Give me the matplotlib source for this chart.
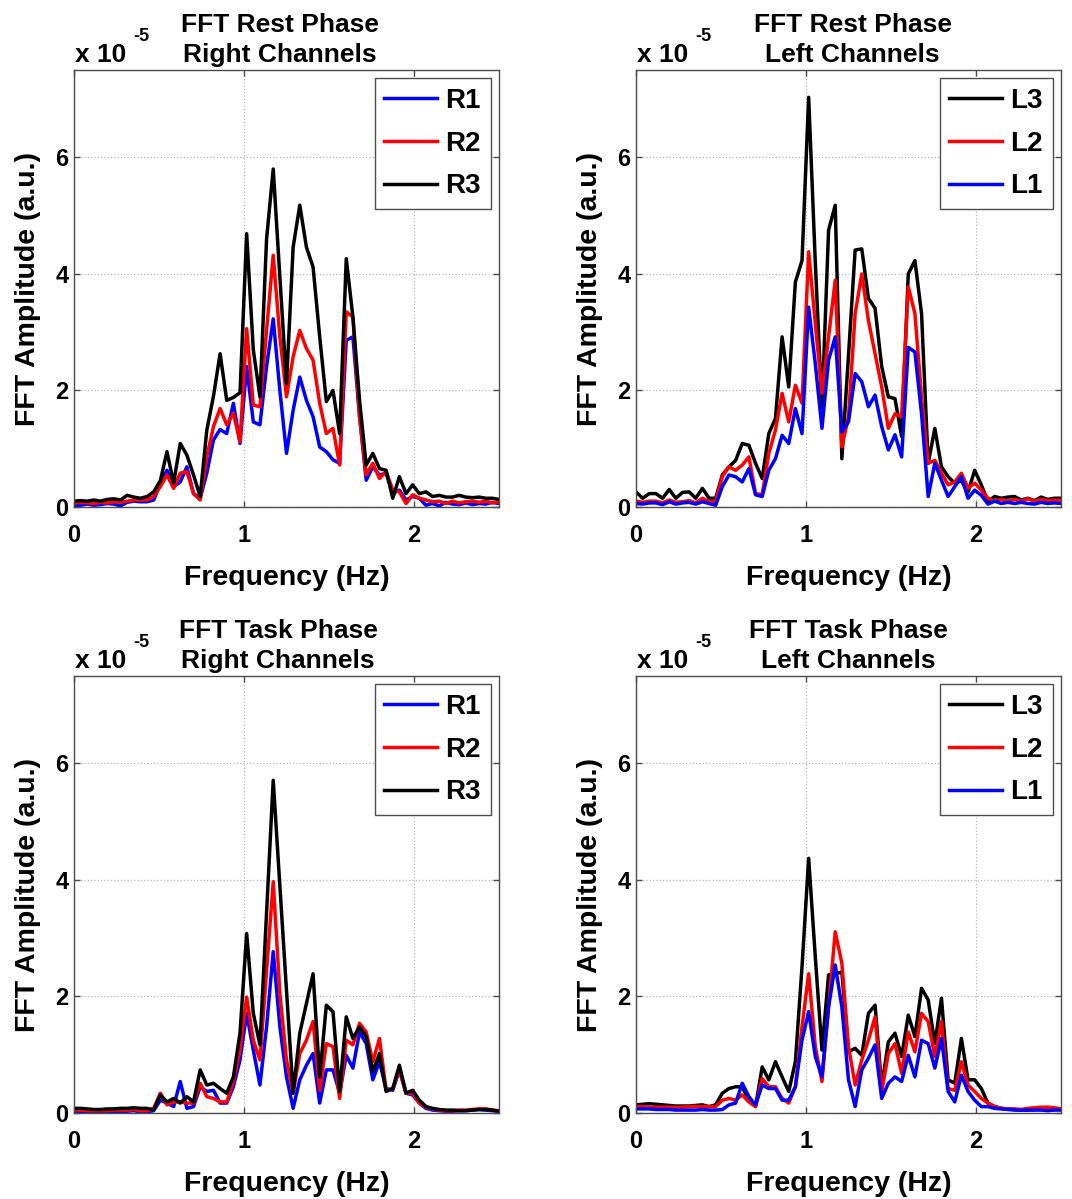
import matplotlib
matplotlib.use("Agg")
import matplotlib.pyplot as plt
import numpy as np

plt.rcParams['font.family'] = ['Liberation Sans', 'DejaVu Sans']
plt.rcParams['font.weight'] = 'bold'
plt.rcParams['axes.titleweight'] = 'bold'
plt.rcParams['axes.labelweight'] = 'bold'

# FFT bins: 65 bins, 0 .. 2.5 Hz
DF = 2.5 / 64
freq = np.arange(65) * DF

# amplitudes in units of 1e-5 (a.u.)
rest_r1 = [0.02, 0.03, 0.05, 0.03, 0.04, 0.06, 0.05, 0.02, 0.08, 0.10,
           0.09, 0.09, 0.12, 0.40,
           0.63, 0.35, 0.43, 0.69, 0.23, 0.15, 0.58, 1.15, 1.33, 1.26, 1.78,
           1.09, 2.41, 1.46, 1.41, 2.41, 3.23, 2.00, 0.92, 1.66, 2.23,
           1.83, 1.55, 1.03, 0.95, 0.81, 0.75, 2.86, 2.92, 1.55, 0.46,
           0.69, 0.55, 0.58, 0.23, 0.29, 0.12, 0.18, 0.15, 0.03, 0.06,
           0.02, 0.08, 0.05, 0.04, 0.07, 0.04, 0.06, 0.05, 0.08, 0.06]
rest_r2 = [0.07, 0.08, 0.07, 0.06, 0.08, 0.07, 0.09, 0.08, 0.10, 0.12,
           0.12, 0.12, 0.18, 0.35,
           0.55, 0.32, 0.58, 0.61, 0.23, 0.12, 0.86, 1.38, 1.69, 1.41, 1.61,
           1.12, 3.06, 1.75, 1.72, 3.03, 4.32, 2.92, 1.89, 2.58, 3.03,
           2.72, 2.52, 1.78, 1.26, 1.35, 0.72, 3.35, 3.26, 1.55, 0.55,
           0.75, 0.49, 0.61, 0.29, 0.26, 0.06, 0.21, 0.15, 0.12, 0.09,
           0.10, 0.06, 0.10, 0.07, 0.09, 0.10, 0.08, 0.10, 0.07, 0.09]
rest_r3 = [0.10, 0.11, 0.10, 0.12, 0.10, 0.13, 0.14, 0.12, 0.20, 0.17,
           0.15, 0.18, 0.26, 0.45,
           0.95, 0.41, 1.09, 0.89, 0.55, 0.18, 1.32, 1.90, 2.63, 1.83, 1.88,
           1.96, 4.69, 2.70, 1.89, 4.60, 5.80, 3.95, 2.12, 4.46, 5.18,
           4.46, 4.12, 2.92, 1.81, 2.00, 1.26, 4.26, 3.26, 1.83, 0.72,
           0.92, 0.66, 0.63, 0.15, 0.52, 0.23, 0.38, 0.23, 0.26, 0.18,
           0.20, 0.17, 0.17, 0.20, 0.17, 0.16, 0.17, 0.15, 0.15, 0.13]

rest_l3 = [0.26, 0.15, 0.23, 0.23, 0.15, 0.30, 0.15, 0.25, 0.26, 0.15,
           0.32, 0.15, 0.15, 0.55, 0.69, 0.80, 1.09, 1.06, 0.75, 0.49,
           1.26, 1.52, 2.92, 2.06, 3.86, 4.23, 7.03, 4.20, 1.70, 4.75,
           5.18, 0.83, 2.60, 4.41, 4.43, 3.58, 3.41, 2.41, 1.89, 1.86,
           1.21, 4.00, 4.23, 3.32, 0.75, 1.35, 0.69, 0.52, 0.41, 0.45,
           0.26, 0.63, 0.38, 0.09, 0.18, 0.15, 0.17, 0.18, 0.12, 0.15,
           0.11, 0.17, 0.13, 0.15, 0.15]
rest_l2 = [0.10, 0.08, 0.10, 0.10, 0.07, 0.12, 0.08, 0.09, 0.11, 0.07,
           0.15, 0.09, 0.10, 0.52, 0.69, 0.63, 0.72, 0.86, 0.23, 0.21,
           0.92, 1.32, 1.95, 1.46, 2.09, 1.78, 4.38, 3.15, 1.95, 2.92,
           3.89, 1.03, 1.55, 3.32, 4.00, 3.20, 2.63, 2.06, 1.35, 1.60,
           1.55, 3.78, 3.32, 1.89, 0.75, 0.80, 0.58, 0.38, 0.43, 0.58,
           0.32, 0.41, 0.29, 0.15, 0.10, 0.13, 0.10, 0.13, 0.10, 0.14,
           0.10, 0.13, 0.11, 0.12, 0.12]
rest_l1 = [0.06, 0.05, 0.07, 0.07, 0.04, 0.09, 0.05, 0.07, 0.08, 0.05,
           0.09, 0.06, 0.03, 0.35, 0.55, 0.52, 0.43, 0.66, 0.21, 0.18,
           0.63, 0.83, 1.23, 1.09, 1.69, 1.26, 3.43, 2.46, 1.35, 2.52,
           2.92, 1.29, 1.46, 2.29, 2.15, 1.72, 1.92, 1.38, 0.98, 1.24,
           0.86, 2.74, 2.66, 1.60, 0.18, 0.75, 0.46, 0.18, 0.35, 0.52,
           0.15, 0.29, 0.20, 0.05, 0.10, 0.06, 0.08, 0.06, 0.08, 0.06,
           0.05, 0.08, 0.06, 0.07, 0.06]

task_r1 = [0.03, 0.03, 0.02, 0.02, 0.02, 0.03, 0.03, 0.03, 0.03, 0.04,
           0.02, 0.02, 0.04, 0.22, 0.17, 0.11, 0.54, 0.08, 0.11, 0.45,
           0.37, 0.39, 0.17, 0.17, 0.45, 0.91, 1.71, 1.08, 0.48, 1.48,
           2.77, 1.48, 0.62, 0.08, 0.57, 0.82, 1.02, 0.17, 0.74, 0.74,
           0.34, 0.99, 0.77, 1.39, 1.19, 0.57, 0.88, 0.42, 0.39, 0.74,
           0.34, 0.31, 0.17, 0.08, 0.05, 0.04, 0.03, 0.03, 0.04, 0.04,
           0.05, 0.06, 0.05, 0.04, 0.03]
task_r2 = [0.05, 0.05, 0.04, 0.04, 0.04, 0.04, 0.05, 0.05, 0.05, 0.06,
           0.04, 0.04, 0.08, 0.34, 0.14, 0.19, 0.19, 0.17, 0.17, 0.51,
           0.28, 0.25, 0.19, 0.19, 0.54, 1.08, 1.99, 1.25, 0.91, 2.44,
           3.97, 2.05, 0.91, 0.34, 1.02, 1.25, 1.57, 0.39, 1.19, 1.14,
           0.25, 1.25, 1.17, 1.54, 1.39, 0.88, 1.28, 0.39, 0.42, 0.74,
           0.34, 0.34, 0.17, 0.10, 0.07, 0.05, 0.04, 0.04, 0.05, 0.05,
           0.06, 0.07, 0.07, 0.05, 0.04]
task_r3 = [0.08, 0.08, 0.07, 0.06, 0.06, 0.07, 0.07, 0.08, 0.08, 0.09,
           0.08, 0.08, 0.05, 0.31, 0.19, 0.25, 0.17, 0.28, 0.19, 0.74,
           0.48, 0.51, 0.42, 0.34, 0.62, 1.37, 3.08, 1.71, 1.17, 3.44,
           5.71, 3.90, 2.10, 0.34, 1.37, 1.88, 2.39, 0.62, 1.85, 1.74,
           0.37, 1.65, 1.28, 1.48, 1.31, 0.71, 1.02, 0.37, 0.42, 0.82,
           0.34, 0.39, 0.22, 0.11, 0.08, 0.06, 0.05, 0.05, 0.04, 0.04,
           0.05, 0.06, 0.06, 0.05, 0.03]

task_l3 = [0.14, 0.15, 0.16, 0.15, 0.14, 0.13, 0.12, 0.12, 0.12, 0.13,
           0.14, 0.11, 0.14, 0.34, 0.42, 0.45, 0.45, 0.22, 0.11, 0.79,
           0.57, 0.88, 0.62, 0.37, 0.88, 2.51, 4.37, 2.68, 1.08, 2.37,
           2.39, 2.42, 1.05, 1.11, 0.99, 1.71, 1.85, 0.45, 1.22, 1.37,
           0.97, 1.68, 1.31, 2.14, 1.94, 1.19, 1.97, 0.57, 0.51, 1.28,
           0.57, 0.57, 0.42, 0.17, 0.11, 0.08, 0.07, 0.06, 0.05, 0.05,
           0.06, 0.07, 0.08, 0.07, 0.06]
task_l2 = [0.11, 0.11, 0.10, 0.10, 0.10, 0.10, 0.10, 0.10, 0.11, 0.11,
           0.11, 0.11, 0.11, 0.22, 0.25, 0.22, 0.31, 0.19, 0.11, 0.59,
           0.45, 0.45, 0.25, 0.17, 0.45, 1.48, 2.39, 1.14, 0.54, 1.82,
           3.11, 2.57, 1.14, 0.48, 0.91, 1.25, 1.65, 0.37, 1.02, 1.19,
           0.68, 1.39, 1.05, 1.71, 1.57, 0.97, 1.57, 0.42, 0.39, 0.88,
           0.48, 0.37, 0.25, 0.17, 0.11, 0.08, 0.07, 0.07, 0.06, 0.08,
           0.09, 0.10, 0.10, 0.09, 0.07]
task_l1 = [0.07, 0.07, 0.07, 0.06, 0.06, 0.06, 0.05, 0.05, 0.05, 0.05,
           0.06, 0.05, 0.05, 0.06, 0.14, 0.17, 0.51, 0.28, 0.14, 0.48,
           0.42, 0.42, 0.22, 0.22, 0.45, 1.25, 1.74, 0.97, 0.62, 1.82,
           2.54, 1.82, 0.57, 0.11, 0.74, 0.94, 1.17, 0.25, 0.51, 0.62,
           0.54, 0.99, 0.62, 1.25, 1.19, 0.77, 1.28, 0.37, 0.19, 0.65,
           0.37, 0.22, 0.11, 0.11, 0.08, 0.07, 0.06, 0.05, 0.05, 0.05,
           0.05, 0.05, 0.04, 0.05, 0.05]

COLORS = {'1': 'blue', '2': 'red', '3': 'black'}

W, H = 1072, 1199
fig = plt.figure(figsize=(W / 100, H / 100), dpi=100)


def panel(left, top, title, series, title_x):
    """series: list of (label, values) in plotting / legend order."""
    ax = fig.add_axes([left / W, 1 - (top + 437) / H, 425 / W, 437 / H])
    for label, vals in series:
        ax.plot(freq, vals, color=COLORS[label[-1]], lw=2.5, label=label)

    ax.set_xlim(0, 2.5)
    ax.set_ylim(0, 7.5)
    ax.set_xticks([0, 1, 2])
    ax.set_yticks([0, 2, 4, 6])
    ax.grid(True, linestyle=':', color='0.72', linewidth=0.9)
    ax.tick_params(direction='in', top=True, right=True, length=4,
                   width=1, color='0.3', labelsize=17)
    ax.tick_params(axis='x', pad=12)
    ax.tick_params(axis='y', pad=4)
    for sp in ax.spines.values():
        sp.set_color('0.3')
        sp.set_linewidth(1.0)

    ax.set_xlabel('Frequency (Hz)', fontsize=20.5, va='center')
    ax.xaxis.set_label_coords(0.5, -0.163)
    ax.set_ylabel('FFT Amplitude (a.u.)', fontsize=20.5, va='center')
    ax.yaxis.set_label_coords(-0.108, 0.5)

    ax.set_title(title, fontsize=19, linespacing=1.29, pad=6, x=title_x)

    # MATLAB-style exponent label
    ax.annotate('x 10', xy=(0, 1), xycoords='axes fraction',
                xytext=(1, 8), textcoords='offset pixels',
                fontsize=19, ha='left', va='baseline')
    ax.annotate('-5', xy=(0, 1), xycoords='axes fraction',
                xytext=(59, 29), textcoords='offset pixels',
                fontsize=13, ha='left', va='baseline')

    leg = ax.legend(loc='upper right', fontsize=20, frameon=True,
                    fancybox=False, framealpha=1, edgecolor='0.3',
                    handlelength=1.9, handletextpad=0.3, labelspacing=0.6,
                    borderpad=0.35, borderaxespad=0.3)
    leg.get_frame().set_linewidth(1.0)
    for h in leg.get_lines():
        h.set_linewidth(2.5)
    return ax


panel(74, 70, 'FFT Rest Phase\nRight Channels',
      [('R1', rest_r1), ('R2', rest_r2), ('R3', rest_r3)], 0.485)
panel(636, 70, 'FFT Rest Phase\nLeft Channels',
      [('L3', rest_l3), ('L2', rest_l2), ('L1', rest_l1)], 0.51)
panel(74, 676, 'FFT Task Phase\nRight Channels',
      [('R1', task_r1), ('R2', task_r2), ('R3', task_r3)], 0.48)
panel(636, 676, 'FFT Task Phase\nLeft Channels',
      [('L3', task_l3), ('L2', task_l2), ('L1', task_l1)], 0.5)

fig.savefig('out.png', dpi=100)
